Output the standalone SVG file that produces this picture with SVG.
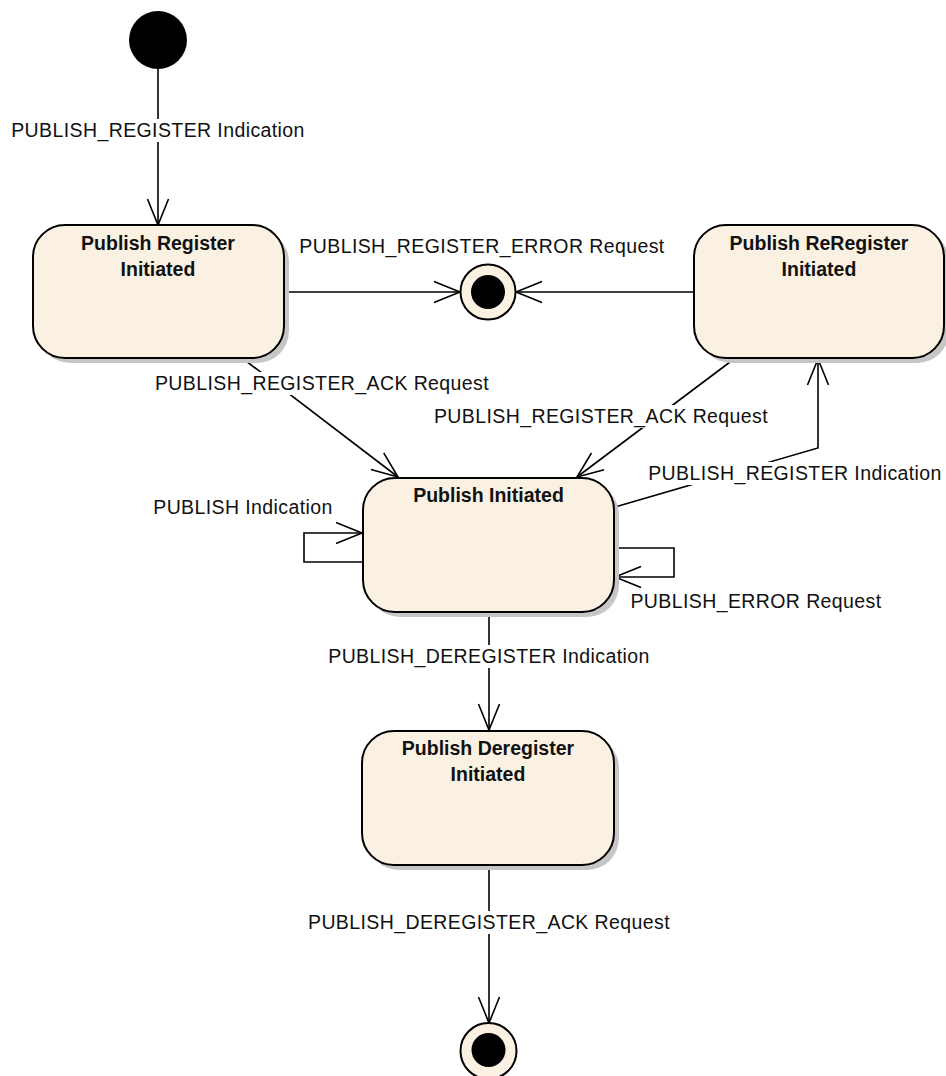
<svg xmlns="http://www.w3.org/2000/svg" width="946" height="1076" viewBox="0 0 946 1076">
<style>
.shadow{fill:#c6c6c6;}
.state{fill:#fbf1e3;stroke:#000;stroke-width:2;}
.title{font-family:"Liberation Sans",Arial,sans-serif;font-size:19.5px;font-weight:bold;fill:#111;text-anchor:middle;}
.lbl{font-family:"Liberation Sans",Arial,sans-serif;font-size:19.5px;letter-spacing:0.4px;fill:#111;text-anchor:middle;}
.bg{fill:#fff;}
.edge{fill:none;stroke:#000;stroke-width:1.6;}
</style>
<defs>
<marker id="arr" markerUnits="userSpaceOnUse" markerWidth="30" markerHeight="24" refX="0" refY="0" orient="auto" overflow="visible">
<path d="M-26,-10.5 L0,0 L-26,10.5" fill="none" stroke="#000" stroke-width="1.6"/>
</marker>
</defs>
<rect width="946" height="1076" fill="#fff"/>

<g id="connectors">
<path class="edge" d="M158,69 L158,225" marker-end="url(#arr)"/>
<path class="edge" d="M284,292 L460,292" marker-end="url(#arr)"/>
<path class="edge" d="M694,292 L516,292" marker-end="url(#arr)"/>
<path class="edge" d="M246,361 L398,477" marker-end="url(#arr)"/>
<path class="edge" d="M730,362 L577,477" marker-end="url(#arr)"/>
<path class="edge" d="M615,507 L818,448 L818,359" marker-end="url(#arr)"/>
<path class="edge" d="M363,562 L304,562 L304,533 L362,533" marker-end="url(#arr)"/>
<path class="edge" d="M614,548 L674,548 L674,577 L615,577" marker-end="url(#arr)"/>
<path class="edge" d="M489,612 L489,730" marker-end="url(#arr)"/>
<path class="edge" d="M489,865 L489,1023" marker-end="url(#arr)"/>
</g>

<g id="labels">
<rect class="bg" x="8" y="119" width="300" height="23"/>
<text class="lbl" x="158" y="137">PUBLISH_REGISTER Indication</text>
<text class="lbl" x="482" y="253">PUBLISH_REGISTER_ERROR Request</text>
<rect class="bg" x="155" y="372" width="335" height="23"/>
<text class="lbl" x="322" y="390">PUBLISH_REGISTER_ACK Request</text>
<rect class="bg" x="433" y="405" width="336" height="23"/>
<text class="lbl" x="601" y="423">PUBLISH_REGISTER_ACK Request</text>
<rect class="bg" x="646" y="462" width="298" height="23"/>
<text class="lbl" x="795" y="480">PUBLISH_REGISTER Indication</text>
<rect class="bg" x="151" y="496" width="184" height="23"/>
<text class="lbl" x="243" y="514">PUBLISH Indication</text>
<rect class="bg" x="631" y="590" width="249" height="23"/>
<text class="lbl" x="756" y="608">PUBLISH_ERROR Request</text>
<rect class="bg" x="327" y="645" width="325" height="23"/>
<text class="lbl" x="489" y="663">PUBLISH_DEREGISTER Indication</text>
<rect class="bg" x="308" y="911" width="361" height="23"/>
<text class="lbl" x="489" y="929">PUBLISH_DEREGISTER_ACK Request</text>
</g>

<g id="initial">
<circle cx="158" cy="40" r="29" fill="#000"/>
</g>

<g id="publish-register-initiated">
<rect class="shadow" x="38" y="230" width="251" height="133" rx="32"/>
<rect class="state" x="33" y="225" width="251" height="133" rx="32"/>
<text class="title" x="158" y="250">Publish Register</text>
<text class="title" x="158" y="276">Initiated</text>
</g>

<g id="publish-reregister-initiated">
<rect class="shadow" x="699" y="230" width="250" height="133" rx="32"/>
<rect class="state" x="694" y="225" width="250" height="133" rx="32"/>
<text class="title" x="819" y="250">Publish ReRegister</text>
<text class="title" x="819" y="276">Initiated</text>
</g>

<g id="final-error">
<circle cx="488" cy="292" r="27.5" fill="#fbf1e3" stroke="#000" stroke-width="2"/>
<circle cx="488" cy="292" r="17" fill="#000"/>
</g>

<g id="publish-initiated">
<rect class="shadow" x="368" y="483" width="251" height="134" rx="32"/>
<rect class="state" x="363" y="478" width="251" height="134" rx="32"/>
<text class="title" x="488.5" y="502">Publish Initiated</text>
</g>

<g id="publish-deregister-initiated">
<rect class="shadow" x="367" y="736" width="252" height="134" rx="32"/>
<rect class="state" x="362" y="731" width="252" height="134" rx="32"/>
<text class="title" x="488" y="755">Publish Deregister</text>
<text class="title" x="488" y="781">Initiated</text>
</g>

<g id="final">
<circle cx="488.5" cy="1051" r="28" fill="#fbf1e3" stroke="#000" stroke-width="2"/>
<circle cx="488.5" cy="1050" r="17" fill="#000"/>
</g>
</svg>
